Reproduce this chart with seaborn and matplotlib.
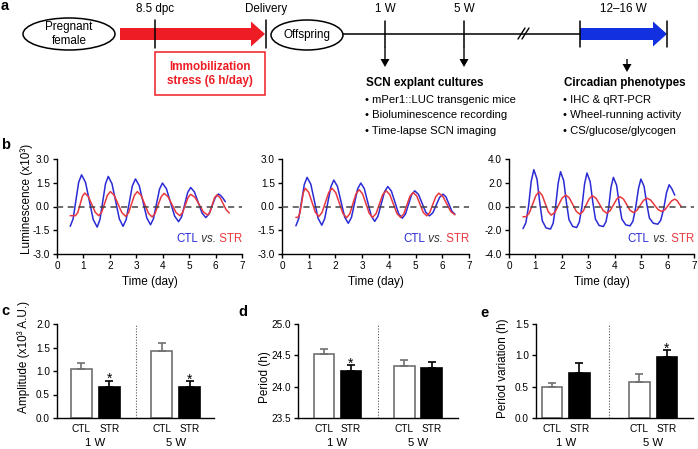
import numpy as np
import pandas as pd
import matplotlib
matplotlib.use("Agg")
import matplotlib.pyplot as plt
import seaborn as sns
from matplotlib.patches import Ellipse, Rectangle, FancyArrow
from matplotlib.offsetbox import TextArea, HPacker, AnchoredOffsetbox
from matplotlib.ticker import FormatStrFormatter

# ---------------- data ----------------
# Panel b: luminescence traces (time in days, luminescence x10^3)
b1_ctl_t = [0.50,0.61,0.715,0.82,0.93,1.08,1.225,1.37,1.52,1.625,1.73,1.835,1.94,2.08,2.22,2.36,2.50,2.62,2.735,2.85,2.97,3.11,3.255,3.40,3.54,3.65,3.765,3.88,3.99,4.14,4.295,4.45,4.60,4.715,4.83,4.945,5.06,5.20,5.345,5.49,5.63,5.75,5.87,5.99,6.11,6.20,6.28,6.37]
b1_ctl_v = [-1.25,-0.78,0.38,1.53,2.00,1.52,0.35,-0.82,-1.30,-0.83,0.30,1.43,1.90,1.44,0.33,-0.79,-1.25,-0.81,0.25,1.30,1.74,1.32,0.30,-0.73,-1.15,-0.77,0.17,1.10,1.48,1.12,0.26,-0.60,-0.96,-0.65,0.12,0.89,1.20,0.92,0.25,-0.42,-0.70,-0.48,0.05,0.57,0.79,0.68,0.52,0.30]
b1_str_t = [0.50,0.70,0.79,0.875,0.96,1.05,1.18,1.315,1.45,1.58,1.69,1.80,1.91,2.02,2.165,2.31,2.455,2.60,2.71,2.82,2.93,3.04,3.18,3.32,3.46,3.60,3.71,3.825,3.94,4.05,4.20,4.35,4.50,4.65,4.75,4.855,4.96,5.06,5.22,5.38,5.54,5.70,5.79,5.875,5.96,6.05,6.17,6.29,6.40,6.52]
b1_str_v = [-0.58,-0.58,-0.37,0.14,0.64,0.85,0.64,0.14,-0.37,-0.58,-0.36,0.18,0.72,0.94,0.71,0.16,-0.39,-0.62,-0.39,0.16,0.71,0.94,0.71,0.14,-0.43,-0.66,-0.44,0.09,0.61,0.83,0.62,0.13,-0.37,-0.58,-0.38,0.10,0.57,0.77,0.58,0.12,-0.35,-0.54,-0.36,0.10,0.55,0.73,0.56,0.16,-0.20,-0.41]

b2_ctl_t = [0.52,0.625,0.73,0.835,0.94,1.08,1.215,1.35,1.49,1.60,1.715,1.83,1.94,2.075,2.21,2.345,2.48,2.60,2.715,2.83,2.95,3.08,3.21,3.34,3.47,3.59,3.715,3.84,3.96,4.095,4.23,4.365,4.50,4.62,4.735,4.85,4.97,5.11,5.245,5.38,5.52,5.65,5.775,5.90,6.03,6.14,6.25,6.36,6.47]
b2_ctl_v = [-1.22,-0.77,0.31,1.39,1.84,1.40,0.33,-0.74,-1.18,-0.76,0.25,1.25,1.67,1.27,0.31,-0.66,-1.06,-0.69,0.21,1.11,1.48,1.13,0.27,-0.59,-0.94,-0.62,0.16,0.94,1.26,0.97,0.26,-0.45,-0.74,-0.49,0.13,0.74,0.99,0.76,0.20,-0.36,-0.59,-0.39,0.10,0.58,0.78,0.60,0.15,-0.30,-0.48]
b2_str_t = [0.52,0.60,0.67,0.735,0.80,0.87,1.00,1.125,1.25,1.38,1.50,1.625,1.75,1.87,2.01,2.145,2.28,2.42,2.54,2.655,2.77,2.89,3.015,3.14,3.265,3.39,3.52,3.645,3.77,3.90,4.035,4.17,4.305,4.44,4.56,4.675,4.79,4.91,5.04,5.165,5.29,5.42,5.53,5.645,5.76,5.87,6.02,6.17,6.32,6.47]
b2_str_v = [-0.69,-0.69,-0.42,0.23,0.88,1.15,0.89,0.26,-0.37,-0.63,-0.37,0.26,0.89,1.15,0.88,0.22,-0.44,-0.71,-0.45,0.18,0.80,1.06,0.80,0.19,-0.43,-0.69,-0.45,0.15,0.75,0.99,0.75,0.15,-0.45,-0.69,-0.46,0.10,0.65,0.88,0.67,0.15,-0.38,-0.59,-0.38,0.13,0.63,0.84,0.64,0.16,-0.32,-0.52]

b3_ctl_t = [0.53,0.64,0.74,0.84,0.94,1.06,1.16,1.26,1.40,1.57,1.67,1.76,1.86,1.95,2.07,2.17,2.27,2.41,2.56,2.66,2.76,2.86,2.95,3.07,3.17,3.27,3.41,3.57,3.67,3.77,3.86,3.95,4.07,4.17,4.27,4.42,4.58,4.69,4.79,4.90,4.99,5.11,5.21,5.31,5.46,5.63,5.74,5.85,5.96,6.06,6.16,6.27]
b3_ctl_v = [-1.86,-1.36,0.02,2.11,3.10,2.30,0.40,-1.20,-1.80,-1.90,-1.42,-0.06,1.96,2.93,2.18,0.39,-1.11,-1.68,-1.77,-1.31,-0.03,1.90,2.82,2.10,0.38,-1.06,-1.60,-1.69,-1.28,-0.12,1.62,2.45,1.80,0.25,-1.06,-1.55,-1.63,-1.24,-0.13,1.52,2.31,1.70,0.26,-0.96,-1.41,-1.49,-1.16,-0.23,1.17,1.83,1.50,0.96]
b3_str_t = [0.53,0.65,0.77,0.895,1.02,1.14,1.255,1.37,1.485,1.60,1.74,1.875,2.01,2.15,2.28,2.415,2.55,2.68,2.80,2.92,3.04,3.16,3.295,3.43,3.565,3.70,3.825,3.95,4.075,4.20,4.33,4.455,4.58,4.71,4.84,4.965,5.09,5.22,5.36,5.50,5.64,5.78,5.90,6.025,6.15,6.27,6.36,6.44,6.52]
b3_str_v = [-0.87,-0.85,-0.54,0.20,0.93,1.24,0.95,0.26,-0.44,-0.73,-0.48,0.12,0.71,0.96,0.73,0.16,-0.42,-0.65,-0.42,0.13,0.67,0.90,0.69,0.17,-0.35,-0.56,-0.36,0.13,0.62,0.82,0.63,0.16,-0.32,-0.51,-0.33,0.10,0.52,0.70,0.54,0.14,-0.26,-0.42,-0.27,0.10,0.47,0.62,0.50,0.22,0.00]

# Panels c-e: bar values (mean, SEM) for CTL and STR at 1 W and 5 W
weeks = ["1 W", "5 W"]
conditions = ["CTL", "STR"]
amp_ctl = [1.05, 1.42]
amp_ctl_err = [0.11, 0.17]
amp_str = [0.66, 0.67]
amp_str_err = [0.13, 0.11]
amp_sig = [False, True, False, True]

per_ctl = [24.52, 24.33]
per_ctl_err = [0.08, 0.10]
per_str = [24.25, 24.29]
per_str_err = [0.09, 0.11]
per_sig = [False, True, False, False]

var_ctl = [0.49, 0.58]
var_ctl_err = [0.07, 0.12]
var_str = [0.72, 0.98]
var_str_err = [0.16, 0.10]
var_sig = [False, False, False, True]

# ---------------- style ----------------
sns.set_theme(style="ticks")
plt.rcParams["font.family"] = ["Liberation Sans", "DejaVu Sans"]
plt.rcParams["axes.unicode_minus"] = False
plt.rcParams.update({
    "axes.edgecolor": "black", "xtick.color": "black", "ytick.color": "black",
    "text.color": "black", "axes.labelcolor": "black", "axes.linewidth": 1.0,
})

BLUE = "#2b2bd6"
RED = "#e8383d"
ARROW_RED = "#ee1c24"
ARROW_BLUE = "#1230e0"

W, H = 698, 449
fig = plt.figure(figsize=(W / 100, H / 100), dpi=100)

def px_axes(l, t, r, b):
    return fig.add_axes([l / W, 1 - b / H, (r - l) / W, (b - t) / H])

# ---------------- panel a: schematic ----------------
ax0 = fig.add_axes([0, 0, 1, 1])
ax0.set_xlim(0, W)
ax0.set_ylim(H, 0)
ax0.axis("off")

fs = 8.4
ax0.add_patch(Ellipse((69, 34), 92, 32, fill=False, ec="black", lw=1.1))
ax0.text(69, 34, "Pregnant\nfemale", ha="center", va="center", fontsize=fs, linespacing=1.15)
ax0.add_patch(FancyArrow(120, 34, 145, 0, width=12, head_width=25, head_length=14,
                         length_includes_head=True, color=ARROW_RED, lw=0))
for x in (155, 266):
    ax0.plot([x, x], [20, 48], color="black", lw=1.1)
ax0.text(155, 9, "8.5 dpc", ha="center", va="center", fontsize=fs)
ax0.text(266, 9, "Delivery", ha="center", va="center", fontsize=fs)
ax0.add_patch(Rectangle((155, 52), 110, 43, fill=False, ec=ARROW_RED, lw=1.1))
ax0.text(210, 74, "Immobilization\nstress (6 h/day)", ha="center", va="center", fontsize=fs,
         fontweight="bold", color=ARROW_RED, linespacing=1.3)
ax0.add_patch(Ellipse((307, 35), 72, 30, fill=False, ec="black", lw=1.1))
ax0.text(307, 35, "Offspring", ha="center", va="center", fontsize=fs)

ax0.plot([343, 580], [34, 34], color="black", lw=1.1)
ax0.add_patch(FancyArrow(580, 34, 87, 0, width=12, head_width=25, head_length=14,
                         length_includes_head=True, color=ARROW_BLUE, lw=0))
for x in (385, 464, 580, 667):
    ax0.plot([x, x], [21, 47], color="black", lw=1.1)
ax0.plot([518, 525], [39, 28], color="black", lw=1.0)
ax0.plot([522, 529], [39, 28], color="black", lw=1.0)
ax0.text(385, 9, "1 W", ha="center", va="center", fontsize=fs)
ax0.text(464, 9, "5 W", ha="center", va="center", fontsize=fs)
ax0.text(623, 9, "12\u201316 W", ha="center", va="center", fontsize=fs)
for x, y0, y1 in ((385, 47, 67), (464, 47, 67), (627, 59, 72)):
    ax0.add_patch(FancyArrow(x, y0, 0, y1 - y0, width=1.4, head_width=9, head_length=8,
                             length_includes_head=True, color="black", lw=0))

ax0.text(366, 83, "SCN explant cultures", ha="left", va="center", fontsize=fs, fontweight="bold")
for i, s in enumerate(["mPer1::LUC transgenic mice", "Bioluminescence recording",
                       "Time-lapse SCN imaging"]):
    ax0.text(365, 100 + i * 15.5, "\u2022 " + s, ha="left", va="center", fontsize=fs - 0.3)
ax0.text(564, 83, "Circadian phenotypes", ha="left", va="center", fontsize=fs, fontweight="bold")
for i, s in enumerate(["IHC & qRT-PCR", "Wheel-running activity", "CS/glucose/glycogen"]):
    ax0.text(563, 100 + i * 15.5, "\u2022 " + s, ha="left", va="center", fontsize=fs - 0.3)

for lab, x, y in (("a", 1, 6), ("b", 1, 145), ("c", 1, 311), ("d", 238, 312), ("e", 480, 313)):
    ax0.text(x, y, lab, ha="left", va="center", fontsize=10.5, fontweight="bold")

# ---------------- panel b: traces ----------------
def style_axes(ax):
    sns.despine(ax=ax)
    ax.tick_params(direction="out", length=3, width=1, labelsize=7.2, pad=2)
    ax.set_facecolor("none")

def trace_panel(ax, tc, vc, ts, vs, ylim, yticks, ylabel=None):
    sns.lineplot(x=tc, y=vc, ax=ax, color=BLUE, lw=1.1, sort=False, estimator=None)
    sns.lineplot(x=ts, y=vs, ax=ax, color=RED, lw=1.1, sort=False, estimator=None)
    ax.axhline(0, color="#444444", lw=1.1, ls=(0, (4, 3)), zorder=3)
    ax.set_xlim(0, 7)
    ax.set_ylim(*ylim)
    ax.set_xticks(range(8))
    ax.set_yticks(yticks)
    ax.yaxis.set_major_formatter(FormatStrFormatter("%.1f"))
    style_axes(ax)
    ax.set_xlabel("Time (day)", fontsize=8.5)
    ax.xaxis.set_label_coords(0.5, -0.23)
    if ylabel:
        ax.set_ylabel(ylabel, fontsize=8.5)
        ax.yaxis.set_label_coords(-0.13, 0.58)
    else:
        ax.set_ylabel("")
    parts = [TextArea("CTL", textprops=dict(color=BLUE, size=8.3)),
             TextArea(" vs.", textprops=dict(color="#333333", size=8.3, style="italic")),
             TextArea(" STR", textprops=dict(color=RED, size=8.3))]
    box = HPacker(children=parts, align="baseline", pad=0, sep=0)
    anch = AnchoredOffsetbox(loc="lower right", child=box, pad=0, borderpad=0, frameon=False,
                             bbox_to_anchor=(1.0, 0.10), bbox_transform=ax.transAxes)
    ax.add_artist(anch)

axb1 = px_axes(57, 159, 242, 254)
trace_panel(axb1, b1_ctl_t, b1_ctl_v, b1_str_t, b1_str_v, (-3, 3), [-3, -1.5, 0, 1.5, 3],
            "Luminescence (x10\u00b3)")
axb2 = px_axes(282, 159, 469, 254)
trace_panel(axb2, b2_ctl_t, b2_ctl_v, b2_str_t, b2_str_v, (-3, 3), [-3, -1.5, 0, 1.5, 3])
axb3 = px_axes(509, 159, 694, 254)
trace_panel(axb3, b3_ctl_t, b3_ctl_v, b3_str_t, b3_str_v, (-4, 4), [-4, -2, 0, 2, 4])

# ---------------- panels c-e: bars ----------------
def bar_panel(ax, ctl, ctl_err, stv, st_err, sig, ylim, yticks, ylabel, gap, xlim, ylab_y):
    pos, vals, errs, conds = [], [], [], []
    for g in range(len(weeks)):
        for ci, cond in enumerate(conditions):
            pos.append(g * gap + ci)
            vals.append(ctl[g] if cond == "CTL" else stv[g])
            errs.append(ctl_err[g] if cond == "CTL" else st_err[g])
            conds.append(cond)
    df = pd.DataFrame(dict(pos=pos, val=vals, err=errs, cond=conds))
    sns.barplot(data=df, x="pos", y="val", hue="cond", dodge=False, native_scale=True,
                palette={"CTL": "white", "STR": "black"}, width=0.75, errorbar=None,
                legend=False, ax=ax, linewidth=1.2, edgecolor="black")
    for p in ax.patches:
        fc = p.get_facecolor()
        if fc[0] > 0.5:
            p.set_edgecolor("#707070")
    for cond, col in (("CTL", "#707070"), ("STR", "black")):
        sub = df[df.cond == cond]
        ax.errorbar(sub.pos, sub.val, yerr=[np.zeros(len(sub)), sub.err], fmt="none",
                    ecolor=col, elinewidth=1.2, capsize=3, capthick=1.2, zorder=1)
    for (_, r), s in zip(df.iterrows(), sig):
        if s:
            ax.annotate("*", xy=(r.pos, r.val + r.err), xytext=(0, -1.5), textcoords="offset points",
                        ha="center", va="baseline", fontsize=10)
    ax.axvline((1 + gap) / 2, color="#555555", lw=0.8, ls=(0, (1, 1.5)))
    ax.set_xlim(*xlim)
    ax.set_ylim(*ylim)
    ax.set_yticks(yticks)
    ax.yaxis.set_major_formatter(FormatStrFormatter("%.1f"))
    ax.set_xticks(df.pos, df.cond)
    style_axes(ax)
    ax.tick_params(axis="x", length=0, pad=4, labelsize=7.3)
    ax.set_xlabel("")
    ax.set_ylabel(ylabel, fontsize=8.5)
    ax.yaxis.set_label_coords(-0.17, ylab_y)
    for g, wk in enumerate(weeks):
        ax.text(g * gap + 0.5, -0.265, wk, transform=ax.get_xaxis_transform(), ha="center",
                va="center", fontsize=8.2)

axc = px_axes(57, 324, 214, 418)
bar_panel(axc, amp_ctl, amp_ctl_err, amp_str, amp_str_err, amp_sig, (0, 2.0),
          [0, 0.5, 1.0, 1.5, 2.0], "Amplitude (x10\u00b3 A.U.)", 2.875, (-0.875, 4.75), 0.65)
axd = px_axes(298, 324, 458, 418)
bar_panel(axd, per_ctl, per_ctl_err, per_str, per_str_err, per_sig, (23.5, 25.0),
          [23.5, 24.0, 24.5, 25.0], "Period (h)", 2.98, (-0.96, 4.96), 0.44)
axe = px_axes(536, 324, 693, 418)
bar_panel(axe, var_ctl, var_ctl_err, var_str, var_str_err, var_sig, (0, 1.5),
          [0, 0.5, 1.0, 1.5], "Period variation (h)", 3.18, (-0.58, 5.13), 0.53)

fig.savefig("out.png", dpi=100)
